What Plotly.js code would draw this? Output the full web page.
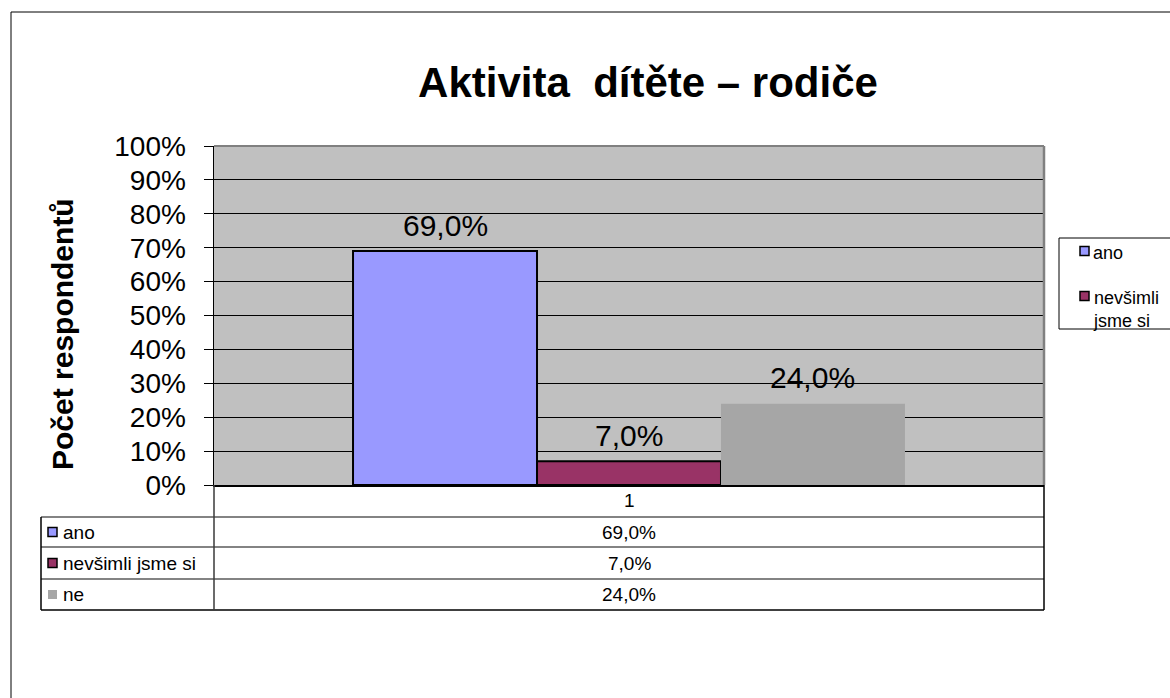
<!DOCTYPE html>
<html>
<head>
<meta charset="utf-8">
<script src="https://cdn.plot.ly/plotly-3.0.1.min.js"></script>
<style>
  html, body { margin: 0; padding: 0; background: #ffffff; }
  #chart { width: 1170px; height: 698px; }
</style>
</head>
<body>
<div id="chart"></div>
<script>
// ---- data ----
const categories = ['1'];
const seriesNames = ['ano', 'nevšimli jsme si', 'ne'];
const anoValues = [0.69];
const nevsimliValues = [0.07];
const neValues = [0.24];
const chartTitle = 'Aktivita&nbsp; dítěte – rodiče';
const yAxisTitle = 'Počet respondentů';

// ---- styles ----
const FONT = 'Liberation Sans, Arial, Helvetica, sans-serif';
const seriesValues = [anoValues, nevsimliValues, neValues];
const seriesColors = ['#9999FF', '#993366', '#A6A6A6'];
const seriesLineColors = ['#000000', '#000000', '#A6A6A6'];
const seriesLineWidths = [2, 2, 0];
const BARGAP = 0.335;

// plot-area geometry (pixels)
const W = 1170, H = 698;
const L = 214, R = 1044, T = 146, B = 485;
const PW = R - L, PH = B - T;
const px = x => (x - L) / PW;
const py = y => (B - y) / PH;

const traces = seriesNames.map((name, i) => ({
  type: 'bar',
  name: name,
  x: categories,
  y: seriesValues[i],
  marker: { color: seriesColors[i], line: { color: seriesLineColors[i], width: seriesLineWidths[i] } },
  hoverinfo: 'none'
}));

const fmtPct = v => (v * 100).toFixed(1).replace('.', ',') + '%';

function wrapWords(s, maxLen) {
  const words = s.split(' ');
  const lines = [];
  let cur = '';
  words.forEach(w => {
    if (cur && (cur + ' ' + w).length > maxLen) { lines.push(cur); cur = w; }
    else cur = cur ? cur + ' ' + w : w;
  });
  if (cur) lines.push(cur);
  return lines.join('<br>');
}

const shapes = [];
const annotations = [];
const line = (x0, y0, x1, y1, color, width) => shapes.push({
  type: 'line', xref: 'paper', yref: 'paper',
  x0: px(x0), y0: py(y0), x1: px(x1), y1: py(y1),
  line: { color: color, width: width }, layer: 'above'
});

// data labels above bars (centres follow the grouped-bar layout)
const nSeries = seriesNames.length;
const barFrac = (1 - BARGAP) / nSeries;
seriesNames.forEach((name, i) => {
  seriesValues[i].forEach((v, k) => {
    annotations.push({
      xref: 'paper', yref: 'y',
      x: (k + 0.5 + (i - (nSeries - 1) / 2) * barFrac) / categories.length,
      y: v, yshift: 26,
      text: fmtPct(v), showarrow: false, xanchor: 'center', yanchor: 'middle',
      font: { family: FONT, size: 30, color: '#000000' }
    });
  });
});

// y-axis title
annotations.push({
  xref: 'paper', yref: 'paper', x: px(62), y: py(334),
  text: yAxisTitle, textangle: -90, showarrow: false,
  xanchor: 'center', yanchor: 'middle',
  font: { family: FONT, size: 30, color: '#000000', weight: 'bold' }
});

// outer chart frame
line(11, 12, 11, 710, '#000000', 1);
line(11, 12, 1180, 12, '#000000', 1);

// plot-area border (top/right)
line(L, T, R, T, '#808080', 2);
line(R, T, R, B, '#808080', 2.5);

// data table grid
const rowTops = [517, 547, 579];
const tableBottom = 610;
const tableLeft = 41;
rowTops.forEach(y => line(tableLeft, y, R, y, '#5a5a5a', 1.5));
line(tableLeft, tableBottom, R, tableBottom, '#000000', 1.5);
line(tableLeft, rowTops[0], tableLeft, tableBottom, '#000000', 1.5);
line(L, B, L, tableBottom, '#3a3a3a', 1.5);
line(R, B, R, tableBottom, '#000000', 1.5);

// table header (category)
categories.forEach(c => annotations.push({
  xref: 'paper', yref: 'paper', x: px((L + R) / 2), y: py(500),
  text: c, showarrow: false, xanchor: 'center', yanchor: 'middle',
  font: { family: FONT, size: 19, color: '#000000' }
}));

// table rows
seriesNames.forEach((name, i) => {
  const yTop = rowTops[i];
  const yBot = i + 1 < rowTops.length ? rowTops[i + 1] : tableBottom;
  const yc = (yTop + yBot) / 2;
  shapes.push({
    type: 'rect', xref: 'paper', yref: 'paper',
    x0: px(48), x1: px(57), y0: py(yc - 4.5), y1: py(yc + 4.5),
    fillcolor: seriesColors[i],
    line: { color: seriesLineWidths[i] ? '#000000' : seriesColors[i], width: seriesLineWidths[i] ? 1.5 : 0 },
    layer: 'above'
  });
  annotations.push({
    xref: 'paper', yref: 'paper', x: px(61), y: py(yc),
    text: name, showarrow: false, xanchor: 'left', yanchor: 'middle',
    font: { family: FONT, size: 19, color: '#000000' }
  });
  annotations.push({
    xref: 'paper', yref: 'paper', x: px((L + R) / 2), y: py(yc),
    text: fmtPct(seriesValues[i][0]), showarrow: false, xanchor: 'center', yanchor: 'middle',
    font: { family: FONT, size: 19, color: '#000000' }
  });
});

// legend box (clipped on the right in the original)
shapes.push({
  type: 'rect', xref: 'paper', yref: 'paper',
  x0: px(1059), x1: px(1200), y0: py(238), y1: py(329),
  fillcolor: '#FFFFFF', line: { color: '#000000', width: 1 }, layer: 'above'
});
const legendRows = [251, 296];
legendRows.forEach((yc, i) => {
  shapes.push({
    type: 'rect', xref: 'paper', yref: 'paper',
    x0: px(1080), x1: px(1089), y0: py(yc - 4.5), y1: py(yc + 4.5),
    fillcolor: seriesColors[i],
    line: { color: '#000000', width: 1.5 }, layer: 'above'
  });
  annotations.push({
    xref: 'paper', yref: 'paper', x: px(1091), y: py(yc - 10),
    text: wrapWords(seriesNames[i], 8), showarrow: false, xanchor: 'left', yanchor: 'top', align: 'left',
    font: { family: FONT, size: 18, color: '#000000' }
  });
});

const layout = {
  width: W, height: H,
  paper_bgcolor: '#FFFFFF',
  plot_bgcolor: '#C0C0C0',
  separators: ', ',
  margin: { l: L, r: W - R, t: T, b: H - B, autoexpand: false },
  showlegend: false,
  barmode: 'group',
  bargap: BARGAP,
  bargroupgap: 0,
  title: {
    text: chartTitle,
    font: { family: FONT, size: 42, color: '#000000', weight: 'bold' },
    xref: 'paper', x: px(648), xanchor: 'center',
    yref: 'container', y: 1 - 82 / H, yanchor: 'middle'
  },
  xaxis: {
    type: 'category',
    showticklabels: false,
    showgrid: false,
    showline: true, linecolor: '#000000', linewidth: 1.5,
    ticks: '', zeroline: false, fixedrange: true
  },
  yaxis: {
    range: [0, 1],
    dtick: 0.1,
    tickformat: '.0%',
    showgrid: true, gridcolor: '#000000', gridwidth: 1,
    showline: true, linecolor: '#000000', linewidth: 1.5,
    ticks: 'outside', ticklen: 9, tickwidth: 1, tickcolor: '#000000',
    ticklabelstandoff: 12,
    tickfont: { family: FONT, size: 28, color: '#000000' },
    zeroline: false, fixedrange: true
  },
  shapes: shapes,
  annotations: annotations
};

Plotly.newPlot('chart', traces, layout, { displayModeBar: false, staticPlot: true });
</script>
</body>
</html>
